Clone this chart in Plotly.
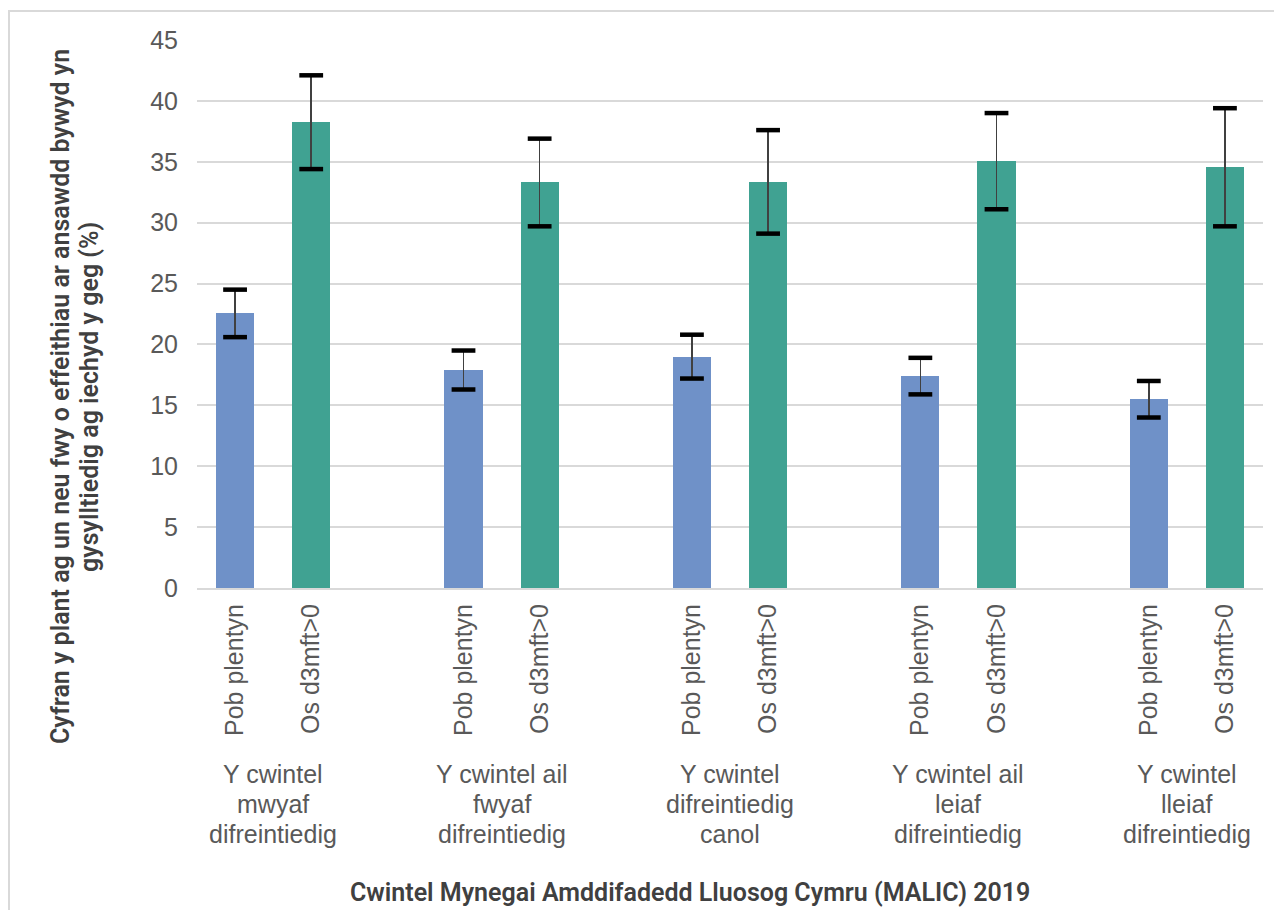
import plotly.graph_objects as go

groups = [["Y cwintel", "mwyaf", "difreintiedig"],
          ["Y cwintel ail", "fwyaf", "difreintiedig"],
          ["Y cwintel", "difreintiedig", "canol"],
          ["Y cwintel ail", "leiaf", "difreintiedig"],
          ["Y cwintel", "lleiaf", "difreintiedig"]]
series_names = ["Pob plentyn", "Os d3mft>0"]
all_children = [22.6, 17.9, 19.0, 17.4, 15.5]
all_lo = [20.6, 16.3, 17.2, 15.9, 14.0]
all_hi = [24.5, 19.5, 20.8, 18.9, 17.0]
dmft = [38.3, 33.3, 33.3, 35.1, 34.6]
dmft_lo = [34.4, 29.7, 29.1, 31.1, 29.7]
dmft_hi = [42.1, 36.9, 37.6, 39.0, 39.4]
x_title = "Cwintel Mynegai Amddifadedd Lluosog Cymru (MALIC) 2019"
y_title_lines = ["Cyfran y plant ag un neu fwy o effeithiau ar ansawdd bywyd yn",
                 "gysylltiedig ag iechyd y geg (%)"]

FONT = "Liberation Sans"
TFONT = "Roboto"
colors = ["#6F91C8", "#40A292"]
OFF = 8  # page body margin
W, H = 1282 - OFF, 910 - OFF
L, T = 197 - OFF, 40 - OFF
R = W - (1263 - OFF)
B = H - (588 - OFF)
pw, ph = W - L - R, H - T - B


def px(xp):  # page x -> paper
    return (xp - OFF - L) / pw


def py(yp):  # page y -> paper
    return (H - B - (yp - OFF)) / ph


fig = go.Figure()
series = [(all_children, all_lo, all_hi), (dmft, dmft_lo, dmft_hi)]
tickvals, ticktext = [], []
for k, (vals, lo, hi) in enumerate(series):
    xs = [3 * g + k for g in range(len(groups))]
    tickvals += xs
    ticktext += [series_names[k]] * len(groups)
    fig.add_trace(go.Bar(
        x=xs, y=vals, width=0.5, marker=dict(color=colors[k], line=dict(width=0)),
        name=series_names[k], showlegend=False,
        error_y=dict(type="data", symmetric=False,
                     array=[h - v for h, v in zip(hi, vals)],
                     arrayminus=[v - l for v, l in zip(vals, lo)],
                     thickness=1.6, width=0, color="#404040")))
    fig.add_trace(go.Scatter(
        x=xs + xs, y=lo + hi, mode="markers", showlegend=False, hoverinfo="skip",
        marker=dict(symbol="line-ew", size=17, line=dict(width=4.5, color="#000000"))))

for g, lines in enumerate(groups):
    for i, line in enumerate(lines):
        fig.add_annotation(x=3 * g + 0.5, xref="x", y=py(774 + 30 * i), yref="paper",
                           text=line, showarrow=False, yanchor="middle", xanchor="center",
                           font=dict(family=FONT, size=25, color="#595959"))

fig.add_annotation(x=px(690), xref="paper", y=py(892), yref="paper",
                   text=x_title, showarrow=False, xanchor="center", yanchor="middle",
                   font=dict(family=TFONT, size=25, color="#404040", weight=600))
for i, line in enumerate(y_title_lines):
    fig.add_annotation(x=px(60 + 29 * i), xref="paper", y=py(397), yref="paper",
                       text=line, showarrow=False, textangle=-90, xanchor="center", yanchor="middle",
                       font=dict(family=TFONT, size=25, color="#404040", weight=600))

# chart area border
fig.add_shape(type="path", xref="paper", yref="paper",
              path=f"M {px(9)} {py(930)} L {px(9)} {py(11)} L {px(1300)} {py(11)}",
              line=dict(color="#D9D9D9", width=2))

fig.update_layout(
    width=W, height=H, margin=dict(l=L, r=R, t=T, b=B, autoexpand=False),
    paper_bgcolor="white", plot_bgcolor="white", bargap=0,
    font=dict(family=FONT, size=25, color="#595959"),
)
fig.update_xaxes(range=[-0.5, 13.5], tickvals=tickvals, ticktext=ticktext, tickangle=-90,
                 showgrid=False, zeroline=False, showline=True, linecolor="#D9D9D9", linewidth=2,
                 ticks="", ticklabelstandoff=4, automargin=False,
                 tickfont=dict(family=FONT, size=25, color="#595959"))
fig.update_yaxes(range=[0, 45], dtick=5, showgrid=True, gridcolor="#D9D9D9", gridwidth=2,
                 zeroline=False, showline=False, ticks="", ticklabelstandoff=18, automargin=False,
                 tickfont=dict(family=FONT, size=25, color="#595959"))

fig.write_html("out.html")
